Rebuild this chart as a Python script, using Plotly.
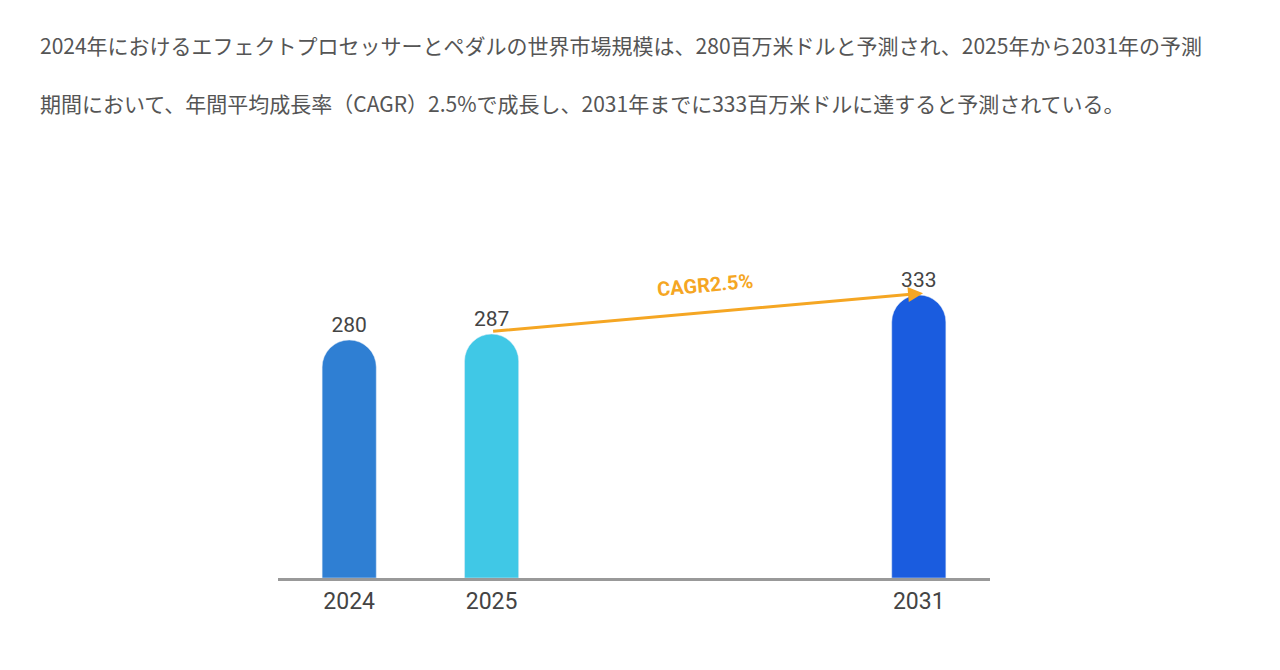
import plotly.graph_objects as go

years = ["2024", "2025", "2031"]
values = [280, 287, 333]
xpos = [0, 1, 4]
colors = ["#2F7FD3", "#40C8E6", "#1A5CDF"]
cagr_label = "CAGR2.5%"
line1 = "2024年におけるエフェクトプロセッサーとペダルの世界市場規模は、280百万米ドルと予測され、2025年から2031年の予測"
line2 = "期間において、年間平均成長率（CAGR）2.5%で成長し、2031年までに333百万米ドルに達すると予測されている。"

fig = go.Figure(go.Bar(
    x=xpos, y=values, width=0.38, marker=dict(color=colors, cornerradius="50%"),
    text=[str(v) for v in values], textposition="outside",
    textfont=dict(size=21, color="#444", family="Roboto"), cliponaxis=False))

fig.update_layout(
    width=1280, height=670, margin=dict(l=0, r=0, t=0, b=0),
    plot_bgcolor="white", paper_bgcolor="white", showlegend=False,
    xaxis=dict(domain=[270/1280, 982/1280], range=[-0.5, 4.5], tickvals=xpos, ticktext=years,
               showgrid=False, zeroline=False, showline=True, linecolor="#999", linewidth=3,
               tickfont=dict(size=23, color="#444", family="Roboto"), ticks=""),
    yaxis=dict(domain=[1-570/670, 1-230/670], range=[0, 400], visible=False),
    font=dict(family="Noto Sans CJK JP"),
)
fig.add_annotation(x=4.03, y=335, ax=1, ay=290, xref="x", yref="y", axref="x", ayref="y",
                   showarrow=True, arrowcolor="#F5A623", arrowwidth=3, arrowhead=2, arrowsize=1, text="")
fig.add_annotation(x=2.5, y=345, xref="x", yref="y", text="<b>" + cagr_label + "</b>", showarrow=False,
                   textangle=-5, font=dict(size=20, color="#F5A623", family="Roboto"))
for t, yy in [(line1, 37), (line2, 95)]:
    fig.add_annotation(x=30/1280, y=1-yy/670, xref="paper", yref="paper", xanchor="left", yanchor="middle",
                       text=t, showarrow=False, font=dict(size=21, color="#555", family="Noto Sans CJK JP"))
fig.write_html("out.html")
